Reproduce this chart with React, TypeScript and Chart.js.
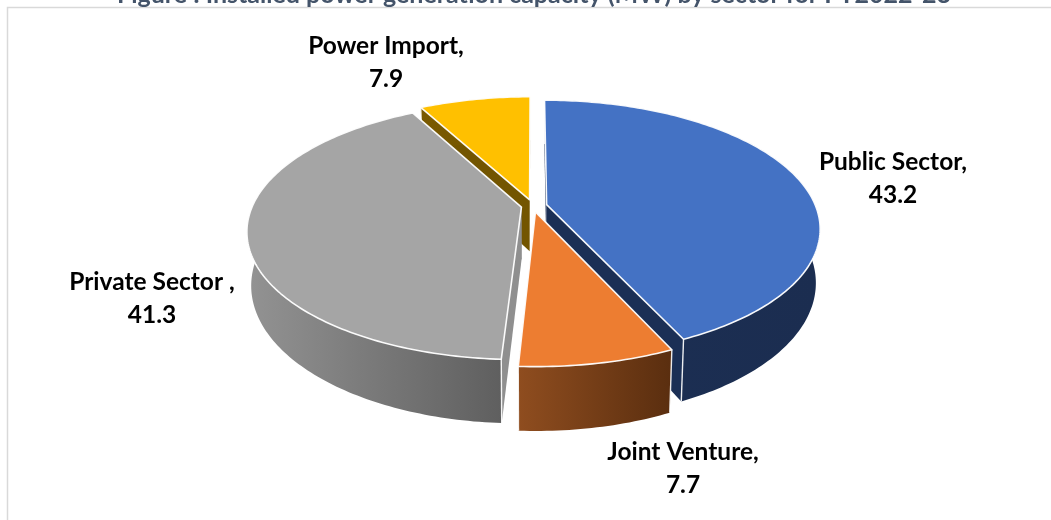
import React, { useEffect, useRef } from "react";
import { Chart, registerables } from "chart.js";

Chart.register(...registerables);

const TITLE = "Figure : Installed power generation capacity (MW) by sector for FY2022-23";
const categories = ["Public Sector", "Joint Venture", "Private Sector ", "Power Import"];
const sharePercent = [43.2, 7.7, 41.3, 7.9];
const topColours = ["#4472c4", "#ed7d31", "#a5a5a5", "#ffc000"];

// Outer wall shading (left to right) and radial cut-face colour of every slice.
const wallShades = [
  ["#1c2f54", "#1b2d50"],
  ["#8f4d1f", "#5a2e0f"],
  ["#939393", "#5f5f5f"],
  ["#7a5a00", "#6f5200"],
];
const cutFaces = ["#1b2f55", "#6b3a14", "#8f8f8f", "#735500"];
const explode = [0.052, 0.048, 0.044, 0.052];

// Camera used to lay the flat pie down as a thick, tilted disc.
const view = { cx: 533, cy: 206, rx: 269, ry: 124, persp: 0.183, thickness: 52, baseScale: 0.985 };

const labelAnchors = [
  { x: 893, y: 162 },
  { x: 683, y: 452 },
  { x: 152, y: 282 },
  { x: 386, y: 46 },
];
const LABEL_FONT = "bold 24.5px Lato";
const LINE_GAP = 33;

type P = [number, number];

function project(wx: number, wy: number, lower: boolean): P {
  const f = 1 / (1 - view.persp * wy);
  let sx = view.cx + view.rx * wx * f;
  let sy = view.cy + view.ry * wy * f;
  if (lower) {
    sx = view.cx + (sx - view.cx) * view.baseScale;
    sy += view.thickness * f;
  }
  return [sx, sy];
}

function tracePath(ctx: CanvasRenderingContext2D, pts: P[]) {
  ctx.beginPath();
  pts.forEach((p, i) => (i ? ctx.lineTo(p[0], p[1]) : ctx.moveTo(p[0], p[1])));
  ctx.closePath();
}

const disc3d = {
  id: "disc3d",
  beforeDraw(chart: any) {
    const { ctx } = chart;
    ctx.save();
    ctx.fillStyle = "#ffffff";
    ctx.fillRect(0, 0, chart.width, chart.height);
    ctx.strokeStyle = "#d9d9d9";
    ctx.lineWidth = 1.5;
    ctx.beginPath();
    ctx.moveTo(7.5, chart.height);
    ctx.lineTo(7.5, 7.5);
    ctx.lineTo(chart.width, 7.5);
    ctx.stroke();
    ctx.fillStyle = "#44546a";
    ctx.font = "bold 25px Lato";
    ctx.textAlign = "center";
    ctx.textBaseline = "alphabetic";
    ctx.fillText(TITLE, 534, 3);
    ctx.restore();
  },
  // The library's flat arcs are replaced by the projected solids below.
  beforeDatasetDraw() {
    return false;
  },
  afterDatasetsDraw(chart: any) {
    const { ctx } = chart;
    const arcs = chart.getDatasetMeta(0).data as any[];
    const order = arcs
      .map((el, i) => ({ el, i, mid: (el.startAngle + el.endAngle) / 2 }))
      .sort((a, b) => Math.sin(a.mid) - Math.sin(b.mid));

    ctx.save();
    ctx.lineJoin = "round";
    for (const { el, i, mid } of order) {
      const ox = Math.cos(mid) * explode[i];
      const oy = Math.sin(mid) * explode[i];
      const steps = Math.ceil(((el.endAngle - el.startAngle) * 180) / Math.PI);
      const rim = (lower: boolean): P[] => {
        const out: P[] = [];
        for (let s = 0; s <= steps; s++) {
          const a = el.startAngle + ((el.endAngle - el.startAngle) * s) / steps;
          out.push(project(ox + Math.cos(a), oy + Math.sin(a), lower));
        }
        return out;
      };
      const upper = rim(false);
      const lowerRim = rim(true);
      const apexTop = project(ox, oy, false);
      const apexLow = project(ox, oy, true);

      // Radial cut faces.
      ctx.fillStyle = cutFaces[i];
      for (const k of [0, steps]) {
        tracePath(ctx, [apexTop, upper[k], lowerRim[k], apexLow]);
        ctx.fill();
      }

      // Curved outer wall.
      const xs = upper.concat(lowerRim).map((p) => p[0]);
      const grad = ctx.createLinearGradient(Math.min(...xs), 0, Math.max(...xs), 0);
      grad.addColorStop(0, wallShades[i][0]);
      grad.addColorStop(1, wallShades[i][1]);
      ctx.fillStyle = grad;
      tracePath(ctx, upper.concat(lowerRim.slice().reverse()));
      ctx.fill();

      // Vertical seams at the outer corners.
      ctx.strokeStyle = "rgba(255,255,255,0.9)";
      ctx.lineWidth = 1.4;
      for (const k of [0, steps]) {
        ctx.beginPath();
        ctx.moveTo(upper[k][0], upper[k][1]);
        ctx.lineTo(lowerRim[k][0], lowerRim[k][1]);
        ctx.stroke();
      }

      // Top face.
      tracePath(ctx, [apexTop, ...upper]);
      ctx.fillStyle = el.options.backgroundColor;
      ctx.fill();
      ctx.lineWidth = 1.6;
      ctx.strokeStyle = "rgba(255,255,255,0.95)";
      ctx.stroke();
    }

    // Category and value labels.
    ctx.fillStyle = "#000000";
    ctx.font = LABEL_FONT;
    ctx.textAlign = "center";
    ctx.textBaseline = "middle";
    categories.forEach((name, i) => {
      ctx.fillText(`${name},`, labelAnchors[i].x, labelAnchors[i].y);
      ctx.fillText(String(sharePercent[i]), labelAnchors[i].x, labelAnchors[i].y + LINE_GAP);
    });
    ctx.restore();
  },
};

export default function App() {
  const ref = useRef<HTMLCanvasElement>(null);
  useEffect(() => {
    const chart = new Chart(ref.current as HTMLCanvasElement, {
      type: "pie",
      data: {
        labels: categories,
        datasets: [{ data: sharePercent, backgroundColor: topColours, borderWidth: 0 }],
      },
      options: {
        animation: false,
        responsive: false,
        plugins: { legend: { display: false }, title: { display: false }, tooltip: { enabled: false } },
      },
      plugins: [disc3d],
    } as any);
    return () => chart.destroy();
  }, []);
  return (
    <canvas
      ref={ref}
      width={1051}
      height={520}
      style={{ position: "absolute", left: 0, top: 0, display: "block" }}
    />
  );
}
